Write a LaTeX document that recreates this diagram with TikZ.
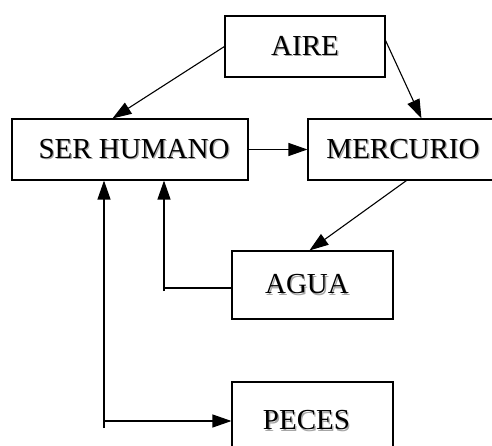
\documentclass[tikz,border=0pt]{standalone}
\usepackage{fontspec}
\setmainfont{Liberation Serif}
\usetikzlibrary{arrows.meta,calc}
\newcommand\shtxt[1]{\makebox[0pt][l]{\kern1.3pt\raisebox{-1.3pt}{\color{black!35}#1}}#1}
\begin{document}
\begin{tikzpicture}[x=1pt,y=-1pt,
  box/.style={draw,line width=1.1pt,rectangle,inner sep=0pt,font=\fontsize{29}{29}\selectfont},
  arr/.style={line width=1.1pt,-{Triangle[length=19pt,width=13pt]}},
  ln/.style={line width=1.1pt}]
\useasboundingbox (0,0) rectangle (492,446);
\clip (0,0) rectangle (492,446);
\node[box,minimum width=160pt,minimum height=61pt] (aire) at (305,46.5) {\shtxt{AIRE}};
\node[box,minimum width=236pt,minimum height=61pt] (ser) at (130,149.5) {\hspace{8pt}\shtxt{SER HUMANO}};
\node[box,minimum width=190pt,minimum height=61pt] (merc) at (403,149.5) {\shtxt{MERCURIO}};
\node[box,minimum width=161pt,minimum height=68pt] (agua) at (312.5,285) {\hspace{-11pt}\shtxt{AGUA}};
\node[box,minimum width=161pt,minimum height=78pt] (peces) at (312.5,421) {\hspace{-12pt}\shtxt{PECES}};
\coordinate (c1) at (164,288);
\coordinate (c2) at (104,428);
\draw[arr] (aire.west) -- ($(ser.north west)+(101,0)$);
\draw[arr] ($(aire.east)+(0,-6)$) -- ($(merc.north west)+(114,0)$);
\draw[arr] (ser.east) -- (merc.west);
\draw[arr] ($(merc.south west)+(99,0)$) -- ($(agua.north west)+(78,0)$);
\draw[line width=2.2pt] (agua.west |- c1) -- (c1);
\draw[arr] ($(c1)+(0,3)$) -- (ser.south -| c1);
\draw[arr] (c2) -- (ser.south -| c2);
\draw[arr] (c2 |- peces.west) -- (peces.west);
\end{tikzpicture}
\end{document}
